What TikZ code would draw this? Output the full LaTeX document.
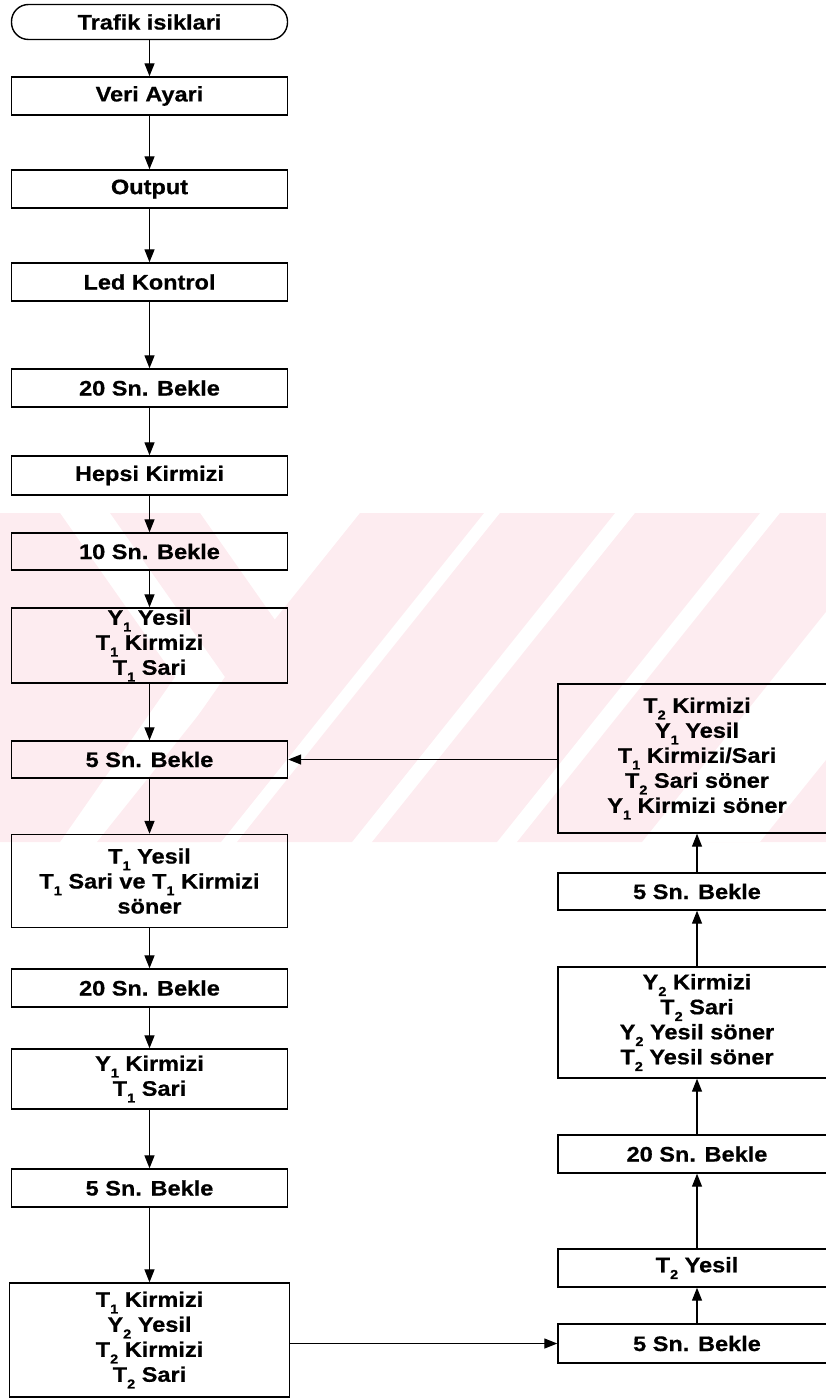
\documentclass[tikz,border=0pt]{standalone}
\usepackage{fontspec}
\setmainfont{Liberation Sans}[FakeStretch=1.12, BoldFeatures={FakeBold=0.6}]
\usetikzlibrary{arrows.meta}
\definecolor{wm}{RGB}{253,236,240}
\newcommand\sbs[1]{\raisebox{-0.32em}{\fontsize{13}{13}\selectfont #1}}
\tikzset{
  box/.style={draw, line width=1.4pt, inner sep=0pt, align=center,
    font=\fontsize{21}{25}\selectfont\bfseries},
  lbox/.style={box, minimum width=276pt},
  rbox/.style={box, minimum width=278pt},
  arr/.style={-{Triangle[length=13pt,width=10pt]}, line width=1.3pt}
}
\begin{document}
\begin{tikzpicture}[x=1pt,y=-1pt]
\useasboundingbox (0,0) rectangle (826,1399);
\clip (0,0) rectangle (826,1399);
% watermark
\fill[wm] (0,513) -- (60,513) -- (175,677) -- (60,842) -- (0,842) -- cycle;
\fill[wm] (110,513) -- (200,513) -- (315,677) -- (200,842) -- (110,842) -- (225,677) -- cycle;
\fill[wm] (360,513) -- (484,513) -- (221,842) -- (97,842) -- cycle;
\fill[wm] (500,513) -- (615,513) -- (352,842) -- (237,842) -- cycle;
\fill[wm] (635,513) -- (760,513) -- (497,842) -- (372,842) -- cycle;
\fill[wm] (780,513) -- (905,513) -- (642,842) -- (517,842) -- cycle;
\fill[wm] (700,842) -- (826,842) -- (826,760) -- (760,842) -- cycle;
% left column
\node[lbox, minimum height=35pt, rounded corners=17pt] (term) at (149.5,22) {Trafik isiklari};
\node[lbox, minimum height=38pt] (veri) at (149.5,96) {Veri Ayari};
\node[lbox, minimum height=38pt] (out) at (149.5,189) {Output};
\node[lbox, minimum height=38pt] (led) at (149.5,282) {Led Kontrol};
\node[lbox, minimum height=38pt] (wa) at (149.5,388) {20 Sn. Bekle};
\node[lbox, minimum height=39pt] (hep) at (149.5,475.5) {Hepsi Kirmizi};
\node[lbox, minimum height=37pt] (wb) at (149.5,551.5) {10 Sn. Bekle};
\node[lbox, minimum height=75pt] (ya) at (149.5,645.5) {Y\sbs{1} Yesil\\T\sbs{1} Kirmizi\\T\sbs{1} Sari};
\node[lbox, minimum height=37pt] (wc) at (149.5,759.5) {5 Sn. Bekle};
\node[lbox, minimum height=93pt] (ta) at (149.5,881) {T\sbs{1} Yesil\\T\sbs{1} Sari ve T\sbs{1} Kirmizi\\söner};
\node[lbox, minimum height=38pt] (wd) at (149.5,988) {20 Sn. Bekle};
\node[lbox, minimum height=60pt] (yk) at (149.5,1079) {Y\sbs{1} Kirmizi\\T\sbs{1} Sari};
\node[lbox, minimum height=38pt] (we) at (149.5,1188) {5 Sn. Bekle};
\node[lbox, minimum height=114pt, minimum width=280pt] (bot) at (149.5,1340) {T\sbs{1} Kirmizi\\Y\sbs{2} Yesil\\T\sbs{2} Kirmizi\\T\sbs{2} Sari};
% right column
\node[rbox, minimum height=149pt] (re) at (697,758.5) {T\sbs{2} Kirmizi\\Y\sbs{1} Yesil\\T\sbs{1} Kirmizi/Sari\\T\sbs{2} Sari söner\\Y\sbs{1} Kirmizi söner};
\node[rbox, minimum height=37pt] (rd) at (697,891.5) {5 Sn. Bekle};
\node[rbox, minimum height=111pt] (rc) at (697,1022.5) {Y\sbs{2} Kirmizi\\T\sbs{2} Sari\\Y\sbs{2} Yesil söner\\T\sbs{2} Yesil söner};
\node[rbox, minimum height=38pt] (rb) at (697,1154) {20 Sn. Bekle};
\node[rbox, minimum height=38pt] (ra) at (697,1268) {T\sbs{2} Yesil};
\node[rbox, minimum height=39pt] (r0) at (697,1343.5) {5 Sn. Bekle};
% connectors
\foreach \a/\b in {term/veri, veri/out, out/led, led/wa, wa/hep, hep/wb, wb/ya, ya/wc, wc/ta, ta/wd, wd/yk, yk/we, we/bot}
  \draw[arr] (\a.south) -- (\b.north);
\foreach \a/\b in {r0/ra, ra/rb, rb/rc, rc/rd, rd/re}
  \draw[arr] (\a.north) -- (\b.south);
\draw[arr] (r0.west -| bot.east) -- (r0.west);
\draw[arr] (wc.east -| re.west) -- (wc.east);
\end{tikzpicture}
\end{document}
